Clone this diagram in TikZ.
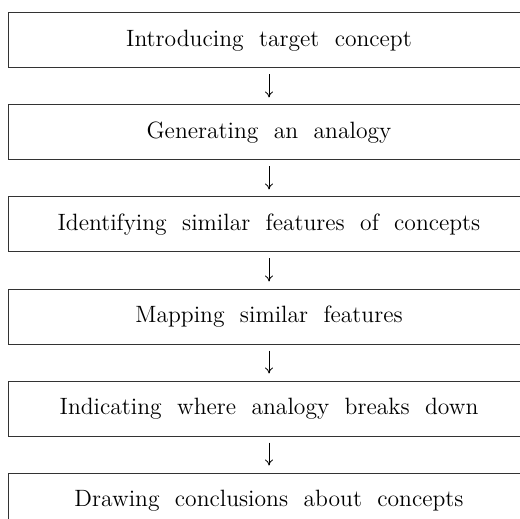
\documentclass[tikz,border=0pt]{standalone}
\usepackage{tikz}
\usetikzlibrary{arrows.meta, positioning}

\tikzset{
    stepbox/.style={draw=black!80, line width=0.5pt, rectangle,
        minimum width=261pt, minimum height=27.5pt, inner sep=0pt,
        font=\fontsize{11.8}{14}\selectfont},
    flowarrow/.style={-{To[length=3pt,width=4pt]}, line width=0.4pt,
        shorten >=3.5pt, shorten <=3pt}
}

\begin{document}
\begin{tikzpicture}[node distance=18pt]
        \useasboundingbox (0,0) rectangle (260pt,-259.5pt);
        \node[stepbox] (intro) at (134.5pt,-20.25pt) {Introducing\ \ target\ \ concept};
        \node[stepbox, below=of intro] (generate) {Generating\ \ an\ \ analogy};
        \node[stepbox, below=of generate] (identify) {Identifying\ \ similar\ \ features\ \ of\ \ concepts};
        \node[stepbox, below=of identify] (mapping) {Mapping\ \ similar\ \ features};
        \node[stepbox, below=of mapping] (indicate) {Indicating\ \ where\ \ analogy\ \ breaks\ \ down};
        \node[stepbox, below=of indicate] (conclude) {Drawing\ \ conclusions\ \ about\ \ concepts};
        \draw[flowarrow] (intro) -- (generate);
        \draw[flowarrow] (generate) -- (identify);
        \draw[flowarrow] (identify) -- (mapping);
        \draw[flowarrow] (mapping) -- (indicate);
        \draw[flowarrow] (indicate) -- (conclude);
        \end{tikzpicture}
\end{document}
